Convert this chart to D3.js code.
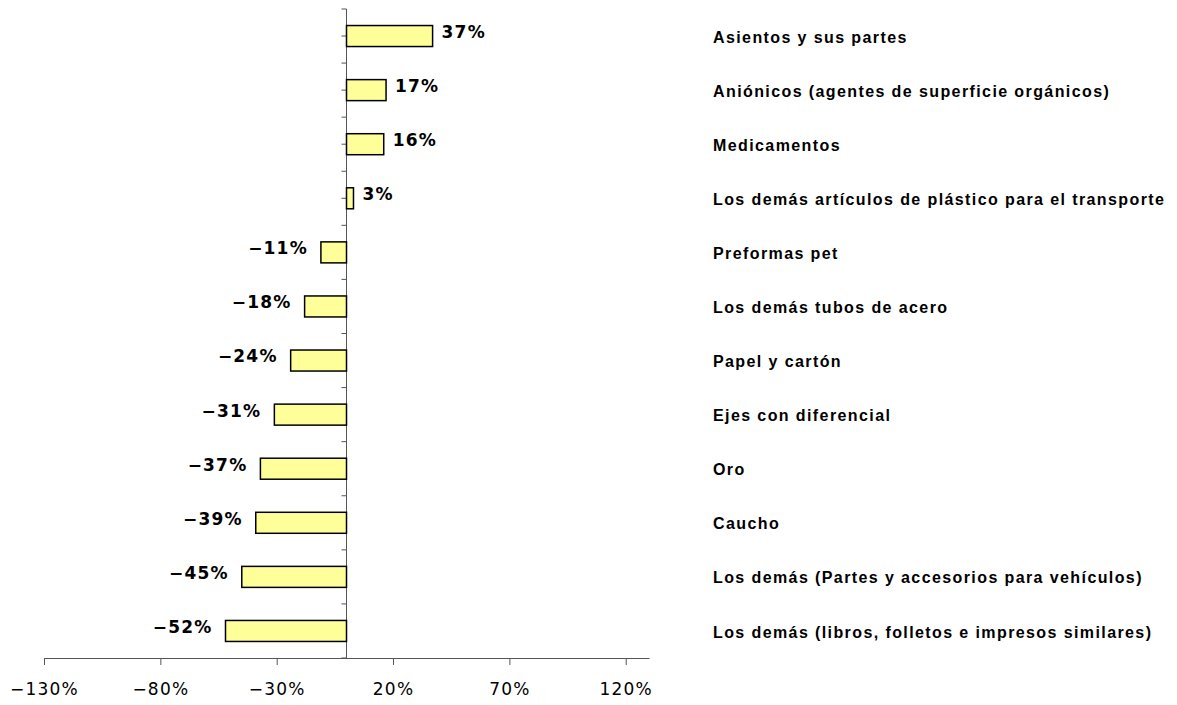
<!DOCTYPE html>
<html>
<head>
<meta charset="utf-8">
<script src="https://cdn.jsdelivr.net/npm/d3@7"></script>
<style>
  body { margin: 0; background: #fff; }
  svg { display: block; }
</style>
</head>
<body>
<div id="chart"></div>
<script>
// categories top to bottom, with their % change
var categories = [
  "Asientos y sus partes",
  "Aniónicos (agentes de superficie orgánicos)",
  "Medicamentos",
  "Los demás artículos de plástico para el transporte",
  "Preformas pet",
  "Los demás tubos de acero",
  "Papel y cartón",
  "Ejes con diferencial",
  "Oro",
  "Caucho",
  "Los demás (Partes y accesorios para vehículos)",
  "Los demás (libros, folletos e impresos similares)"
];
var values = [37, 17, 16, 3, -11, -18, -24, -31, -37, -39, -45, -52];
var tickValues = [-130, -80, -30, 20, 70, 120];

var width = 1177, height = 705;

var svg = d3.select("#chart").append("svg")
  .attr("width", width)
  .attr("height", height);

var x = d3.scaleLinear().domain([-130, 130]).range([44, 649]);
var y = d3.scaleBand().domain(categories).range([9, 658]);

var barH = 21;
var fmt = function(v) { return (v < 0 ? "\u2212" + Math.abs(v) : v) + "%"; };

// x axis
var xAxis = d3.axisBottom(x)
  .tickValues(tickValues)
  .tickSize(7)
  .tickSizeOuter(0)
  .tickFormat(fmt);

var gx = svg.append("g")
  .attr("transform", "translate(0," + 658 + ")")
  .call(xAxis);
gx.select(".domain").attr("stroke", "#555");
gx.selectAll(".tick line").attr("stroke", "#555");
gx.selectAll(".tick text")
  .attr("y", 25)
  .attr("dy", "0.71em")
  .attr("fill", "#000")
  .style("font-family", "'DejaVu Sans', sans-serif")
  .style("font-size", "17px")
  .style("letter-spacing", "1.2px");

// vertical axis at zero, ticks at band edges and centres
var yTicks = [];
categories.forEach(function(c) {
  yTicks.push(y(c));
  yTicks.push(y(c) + y.bandwidth() / 2);
});
yTicks.push(658);

var gy = svg.append("g");
gy.append("line")
  .attr("x1", x(0)).attr("x2", x(0))
  .attr("y1", 9).attr("y2", 658)
  .attr("stroke", "#555");
gy.selectAll("line.tk")
  .data(yTicks).enter()
  .append("line")
  .attr("class", "tk")
  .attr("x1", x(0) - 5).attr("x2", x(0))
  .attr("y1", function(d) { return d; })
  .attr("y2", function(d) { return d; })
  .attr("stroke", "#555");

// bars
svg.append("g").selectAll("rect")
  .data(values).enter()
  .append("rect")
  .attr("x", function(d) { return x(Math.min(0, d)); })
  .attr("y", function(d, i) { return y(categories[i]) + y.bandwidth() / 2 - barH / 2; })
  .attr("width", function(d) { return Math.abs(x(d) - x(0)); })
  .attr("height", barH)
  .attr("fill", "#ffff99")
  .attr("stroke", "#000")
  .attr("stroke-width", 1.5);

// value labels
svg.append("g").selectAll("text")
  .data(values).enter()
  .append("text")
  .attr("x", function(d) { return d < 0 ? x(d) - 13 : x(d) + 9; })
  .attr("y", function(d, i) { return y(categories[i]) + y.bandwidth() / 2 - 4; })
  .attr("dy", "0.35em")
  .attr("text-anchor", function(d) { return d < 0 ? "end" : "start"; })
  .style("font-family", "'DejaVu Sans', sans-serif")
  .style("font-weight", "bold")
  .style("font-size", "17px")
  .style("letter-spacing", "1.2px")
  .text(fmt);

// category labels on the right
svg.append("g").selectAll("text")
  .data(categories).enter()
  .append("text")
  .attr("x", 713)
  .attr("y", function(d) { return y(d) + y.bandwidth() / 2 + 1; })
  .attr("dy", "0.35em")
  .style("font-family", "'Liberation Sans', Arial, sans-serif")
  .style("font-weight", "bold")
  .style("font-size", "16px")
  .style("letter-spacing", "1.4px")
  .text(function(d) { return d; });
</script>
</body>
</html>
